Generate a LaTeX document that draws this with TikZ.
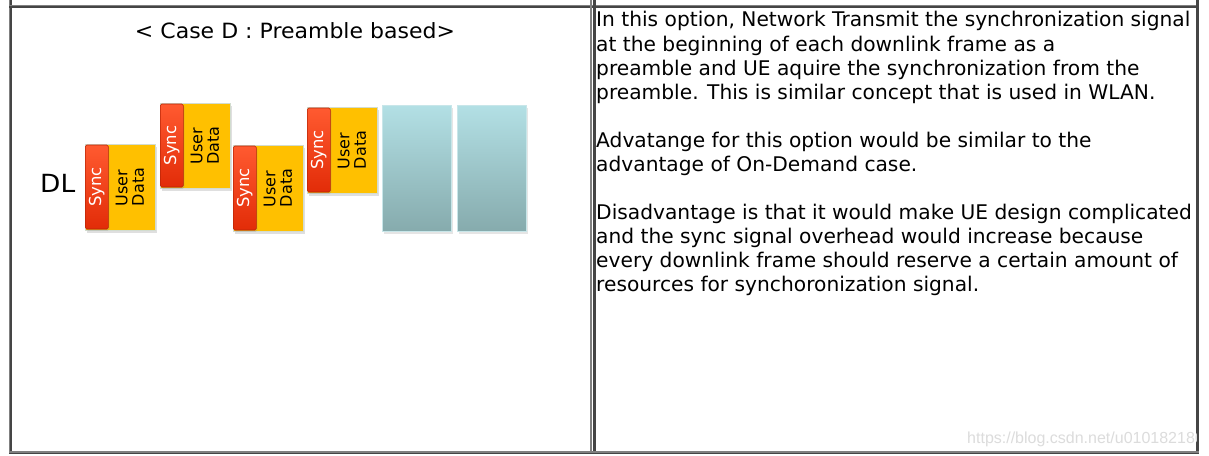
\documentclass[tikz,border=0pt]{standalone}
\usepackage{fontspec}
\setmainfont{DejaVu Sans}
\newfontfamily\wmfont{Liberation Sans}
\usetikzlibrary{shadows,calc}
\definecolor{udyellow}{HTML}{FFC000}
\definecolor{udborder}{HTML}{D2DCCF}
\definecolor{synctop}{HTML}{FF5A30}
\definecolor{syncbot}{HTML}{E22C08}
\definecolor{syncedge}{HTML}{B82506}
\definecolor{tealtop}{HTML}{B3E0E5}
\definecolor{tealbot}{HTML}{86ABAD}
\definecolor{tealedge}{HTML}{C8E6E9}
\definecolor{bdark}{HTML}{454545}
\definecolor{blight}{HTML}{808080}
\definecolor{wmgray}{HTML}{DCDCDC}
\tikzset{
  ubox/.style={fill=udyellow, draw=udborder, line width=0.6pt, minimum width=70pt,
    minimum height=86pt, inner sep=0pt,
    drop shadow={shadow xshift=1.5pt, shadow yshift=-2.5pt, opacity=0.25}},
  syncbar/.style={top color=synctop, bottom color=syncbot, draw=syncedge, line width=0.6pt,
    rounded corners=1.5pt, minimum width=23pt, minimum height=83pt, inner sep=0pt,
    drop shadow={shadow xshift=1pt, shadow yshift=-1.5pt, opacity=0.3}},
  synctxt/.style={text=white, rotate=90, font=\fontsize{16.5}{18}\selectfont, inner sep=0pt},
  udtxt/.style={text=black, rotate=90, align=left, font=\fontsize{16}{16.5}\selectfont, inner sep=0pt},
  tealbox/.style={top color=tealtop, bottom color=tealbot, draw=tealedge, line width=0.8pt,
    minimum width=69pt, minimum height=126pt, inner sep=0pt,
    drop shadow={shadow xshift=1.5pt, shadow yshift=-2.5pt, opacity=0.2}},
  line/.style={anchor=base west, inner sep=0pt, font=\fontsize{20.2}{24}\selectfont},
}
\newcommand\udframe[4]{%
  \node[ubox, minimum height=#4pt] (#1) at (#2,#3) {};
  \node[syncbar, minimum height=#4pt-2pt, anchor=west] (#1s) at ([xshift=0.3pt]#1.west) {};
  \node[synctxt] (#1st) at (#1s.center) {Sync};
  \node[udtxt] (#1ut) at ([xshift=-2pt]$(#1s.east)!0.5!(#1.east)$) {User\\Data};
}
\begin{document}
\begin{tikzpicture}[x=1pt,y=-1pt]
\useasboundingbox (0,0) rectangle (1209,455);
\fill[white] (0,0) rectangle (1209,455);
% table borders
\fill[bdark] (9,0) rectangle (12,454);
\fill[blight] (9,0) rectangle (10,454);
\fill[bdark] (9,5) rectangle (1199,8);
\fill[blight] (9,5) rectangle (1199,6);
\fill[blight] (590,0) rectangle (592.3,454);
\fill[bdark] (593,0) rectangle (596,454);
\fill[bdark] (1196,0) rectangle (1199,454);
\fill[blight] (9,451) rectangle (1199,454);
\fill[bdark] (9,453) rectangle (1199,454);
% left cell
\node[anchor=base, inner sep=0pt, font=\fontsize{21}{24}\selectfont] (title) at (295,38)
  {\resizebox{320pt}{\height}{<\ Case D : Preamble based>}};
\node[anchor=base west, inner sep=0pt, font=\fontsize{25}{30}\selectfont] (dl) at (40,192)
  {\resizebox{35pt}{\height}{DL}};
\udframe{f1}{120}{187}{86}
\udframe{f2}{195}{145.5}{85}
\udframe{f3}{268}{188}{86}
\udframe{f4}{342}{150}{86}
\node[tealbox] (f5) at (416.5,168) {};
\node[tealbox] (f6) at (491.5,168) {};
% right cell
\node[line] (l1) at (596,27) {In this option, Network Transmit the synchronization signal};
\node[line] (l2) at (596,51) {at the beginning of each downlink frame as a};
\node[line] (l3) at (596,75) {preamble and UE aquire the synchronization from the};
\node[line] (l4) at (596,99) {preamble. This is similar concept that is used in WLAN.};
\node[line] (l5) at (596,147) {Advatange for this option would be similar to the};
\node[line] (l6) at (596,171) {advantage of On-Demand case.};
\node[line] (l7) at (596,219) {Disadvantage is that it would make UE design complicated};
\node[line] (l8) at (596,243) {and the sync signal overhead would increase because};
\node[line] (l9) at (596,267) {every downlink frame should reserve a certain amount of};
\node[line] (l10) at (596,291) {resources for synchoronization signal.};
% watermark
\begin{scope}
\clip (596,420) rectangle (1196,451);
\node[anchor=base west, inner sep=0pt, text=wmgray, font=\wmfont\fontsize{16}{19}\selectfont] (wm) at (967,443) {https://blog.csdn.net/u010182186};
\end{scope}
\end{tikzpicture}
\end{document}
